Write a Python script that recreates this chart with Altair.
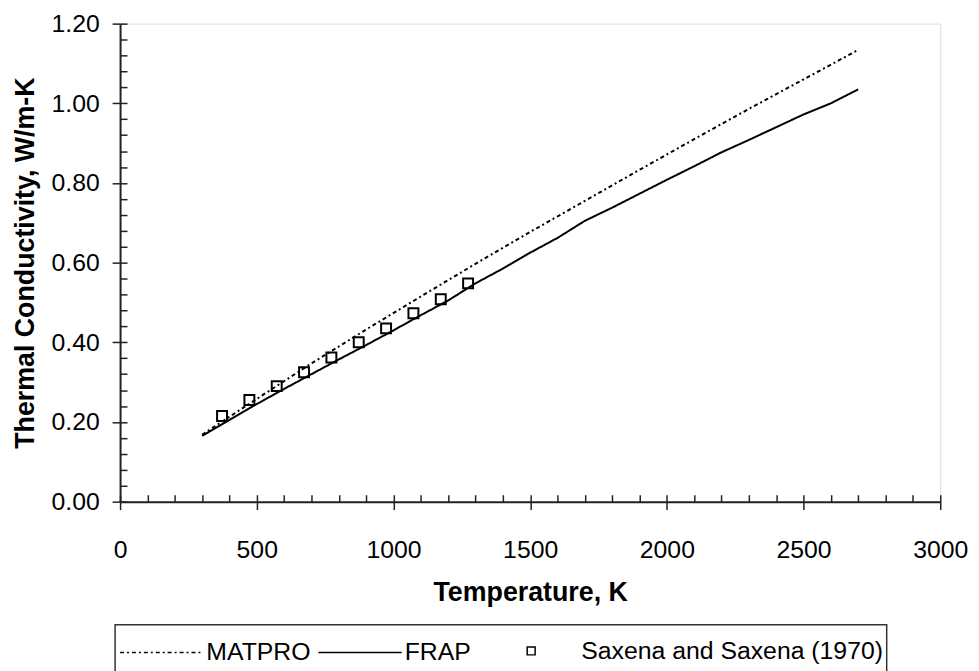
import altair as alt
import pandas as pd

# ---- data ----
frap_T = [300, 400, 500, 600, 700, 800, 900, 1000, 1100, 1200, 1300, 1400, 1500,
          1600, 1700, 1800, 1900, 2000, 2100, 2200, 2300, 2400, 2500, 2600, 2700]
frap_k = [0.165, 0.205, 0.245, 0.283, 0.320, 0.357, 0.393, 0.430, 0.468, 0.505, 0.548,
          0.585, 0.625, 0.662, 0.705, 0.738, 0.773, 0.808, 0.842, 0.877, 0.908, 0.940,
          0.972, 1.000, 1.035]

matpro_T = [300, 500, 700, 900, 1100, 1300, 1500, 1700, 1900, 2100, 2300, 2500, 2700]
matpro_k = [0.168, 0.258, 0.347, 0.432, 0.515, 0.597, 0.677, 0.755, 0.833, 0.910,
            0.986, 1.060, 1.134]

saxena_T = [373, 473, 573, 673, 773, 873, 973, 1073, 1173, 1273]
saxena_k = [0.215, 0.255, 0.290, 0.325, 0.362, 0.400, 0.435, 0.473, 0.508, 0.548]

x_major = [0, 500, 1000, 1500, 2000, 2500, 3000]
x_minor = list(range(0, 3001, 100))
y_major = [0.0, 0.2, 0.4, 0.6, 0.8, 1.0, 1.2]
y_minor = [round(i * 0.04, 2) for i in range(31)]

series_names = ["MATPRO", "FRAP", "Saxena and Saxena (1970)"]

lines_df = pd.concat([
    pd.DataFrame({"T": matpro_T, "k": matpro_k, "series": series_names[0]}),
    pd.DataFrame({"T": frap_T, "k": frap_k, "series": series_names[1]}),
])
pts_df = pd.DataFrame({"T": saxena_T, "k": saxena_k, "series": series_names[2]})

W, H = 827, 482
FONT = "Liberation Sans"
FS = 25
TFS = 27

xscale = alt.Scale(domain=[0, 3000], nice=False, zero=False)
yscale = alt.Scale(domain=[0, 1.2], nice=False, zero=False)

lines = alt.Chart(lines_df).mark_line(color="black", strokeWidth=2).encode(
    x=alt.X("T:Q", scale=xscale, axis=alt.Axis(
        values=x_major, title="Temperature, K", format="d",
        tickSize=8, labelPadding=28, titlePadding=18,
        labelFontSize=FS, titleFontSize=TFS, titleFontWeight="bold",
        labelFont=FONT, titleFont=FONT, labelColor="black", titleColor="black",
        domainColor="#222222", tickColor="#222222", domainWidth=2, tickWidth=1.5,
        grid=False, labelFlush=False, labelOverlap=False)),
    y=alt.Y("k:Q", scale=yscale, axis=alt.Axis(
        values=y_major, title="Thermal Conductivity, W/m-K", format=".2f",
        tickSize=8, labelPadding=13, titlePadding=12,
        labelFontSize=FS, titleFontSize=TFS, titleFontWeight="bold",
        labelFont=FONT, titleFont=FONT, labelColor="black", titleColor="black",
        domainColor="#222222", tickColor="#222222", domainWidth=2, tickWidth=1.5,
        grid=False, labelFlush=False, labelOverlap=False)),
    strokeDash=alt.StrokeDash("series:N",
        scale=alt.Scale(domain=series_names[:2], range=[[4, 3, 2, 3], [1, 0]]),
        legend=alt.Legend(orient="none", legendX=-1, legendY=591, direction="horizontal",
                          title=None, symbolType="stroke", symbolSize=7056,
                          symbolStrokeColor="black", symbolStrokeWidth=1.5,
                          labelFontSize=FS, labelFont=FONT, labelColor="black",
                          labelOffset=2, columnPadding=4, padding=0, labelLimit=0)),
    detail="series:N",
)

points = alt.Chart(pts_df).mark_point(filled=False, color="black", size=100,
                                      strokeWidth=2, opacity=1, shape="square").encode(
    x=alt.X("T:Q", scale=xscale, axis=alt.Axis(
        values=x_minor, orient="bottom", offset=-7, tickSize=7, labels=False,
        domain=False, title=None, grid=False, tickColor="#222222", tickWidth=1.5)),
    y=alt.Y("k:Q", scale=yscale, axis=alt.Axis(
        values=y_minor, orient="left", offset=-7, tickSize=7, labels=False,
        domain=False, title=None, grid=False, tickColor="#222222", tickWidth=1.5)),
    shape=alt.Shape("series:N",
        scale=alt.Scale(domain=[series_names[2]], range=["square"]),
        legend=alt.Legend(orient="none", legendX=402, legendY=620, direction="horizontal",
                          title=None, symbolSize=64, symbolStrokeColor="black",
                          symbolFillColor="white", symbolStrokeWidth=1.5,
                          labelFontSize=FS, labelFont=FONT, labelColor="black",
                          labelOffset=38, padding=0, labelLimit=0)),
)

box = alt.Chart(pd.DataFrame({"a": [0]})).mark_rect(
    fill="transparent", stroke="#333333", strokeWidth=1.5).encode(
    x=alt.value(-5), x2=alt.value(773), y=alt.value(606), y2=alt.value(680))

chart = alt.layer(lines, points, box).resolve_axis(x="independent", y="independent").properties(
    width=W, height=H,
    autosize=alt.AutoSizeParams(type="none"),
    padding={"left": 113, "top": 13, "right": 31, "bottom": 168},
).configure_view(stroke="#909090", strokeWidth=2).configure(background="white")

chart.save("out.html", embed_options={"renderer": "svg", "actions": False})
